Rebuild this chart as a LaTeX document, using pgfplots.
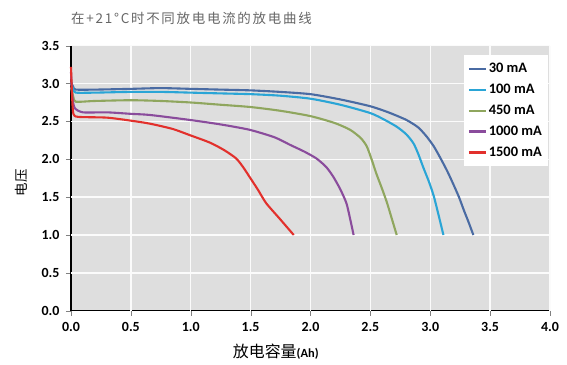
\documentclass[border=0pt]{standalone}
\usepackage{pgfplots}
\pgfplotsset{compat=1.18}
\usepackage{fontspec}
\setmainfont{Carlito}
\newfontfamily\cjk{Noto Sans CJK SC}
\newfontfamily\cjkt[LetterSpace=13]{Noto Sans CJK SC}
\definecolor{c30}{HTML}{4A6BA3}
\definecolor{c100}{HTML}{2AA5D6}
\definecolor{c450}{HTML}{8FA65E}
\definecolor{c1000}{HTML}{8A4C9C}
\definecolor{c1500}{HTML}{E2302C}
\definecolor{plotbg}{HTML}{DEDEDE}
\definecolor{gridc}{HTML}{FBFBFB}
\begin{document}
\begin{tikzpicture}
\path[use as bounding box] (-71bp,-54.3bp) rectangle (496bp,310.7bp);
\fill[plotbg] (0,0) rectangle (479bp,265bp);
\begin{axis}[
  scale only axis, width=479bp, height=265bp,
  xmin=0, xmax=4, ymin=0, ymax=3.5,
  xtick={0,0.5,...,4}, ytick={0,0.5,...,3.5},
  axis x line=bottom, axis y line=left,
  axis line style={-, line width=1.3bp, black},
  tick align=outside, major tick length=5bp,
  /pgf/number format/.cd, fixed, fixed zerofill, precision=1, assume math mode=true,
  /pgfplots/.cd,
  ticklabel style={font=\bfseries\fontsize{14}{16}\selectfont},
  xticklabel style={yshift=-3bp},
  yticklabel style={xshift=-3bp},
  every axis plot/.append style={line width=2.1bp, line join=round, smooth, tension=0.4},
  legend style={at={(rel axis cs:0.996,0.965)}, anchor=north east, draw=none, fill=white,
    font=\bfseries\fontsize{14.5}{16}\selectfont, row sep=6bp, inner xsep=4bp, inner ysep=6bp},
  legend cell align=left,
  clip=false,
]
\pgfplotsinvokeforeach{0.5,1,1.5,2,2.5,3,3.5,4}{
  \addplot[gridc, line width=1.5bp, sharp plot, forget plot] coordinates {(#1,0) (#1,3.5)};
}
\pgfplotsinvokeforeach{0.5,1,1.5,2,2.5,3,3.5}{
  \addplot[gridc, line width=1.5bp, sharp plot, forget plot] coordinates {(0,#1) (4,#1)};
}
\addplot[c30] coordinates {(0,3.02)(0.02,2.95)(0.04,2.92)(0.2,2.92)(0.5,2.93)(0.75,2.94)(1.0,2.93)(1.25,2.92)(1.5,2.91)(1.745,2.89)(2.0,2.86)(2.25,2.79)(2.5,2.70)(2.65,2.62)(2.8,2.52)(2.9,2.42)(2.97,2.30)(3.03,2.17)(3.08,2.03)(3.14,1.85)(3.19,1.68)(3.24,1.50)(3.28,1.33)(3.32,1.17)(3.36,1.0)};
\addlegendentry{30 mA}
\addplot[c100] coordinates {(0,3.0)(0.02,2.92)(0.04,2.88)(0.2,2.88)(0.5,2.89)(0.75,2.89)(1.0,2.88)(1.25,2.87)(1.5,2.86)(1.745,2.84)(2.0,2.80)(2.25,2.72)(2.5,2.61)(2.62,2.52)(2.72,2.43)(2.8,2.33)(2.86,2.21)(2.9,2.07)(2.94,1.90)(2.99,1.70)(3.03,1.51)(3.07,1.26)(3.11,1.0)};
\addlegendentry{100 mA}
\addplot[c450] coordinates {(0,2.95)(0.02,2.82)(0.04,2.76)(0.2,2.77)(0.5,2.78)(0.75,2.77)(1.0,2.75)(1.25,2.72)(1.5,2.69)(1.75,2.64)(2.0,2.57)(2.2,2.48)(2.33,2.39)(2.42,2.28)(2.47,2.17)(2.51,2.00)(2.55,1.81)(2.6,1.60)(2.64,1.42)(2.68,1.21)(2.72,1.0)};
\addlegendentry{450 mA}
\addplot[c1000] coordinates {(0,3.15)(0.01,2.85)(0.03,2.68)(0.1,2.62)(0.3,2.62)(0.5,2.60)(0.66,2.585)(0.99,2.52)(1.25,2.46)(1.49,2.39)(1.7,2.29)(1.83,2.19)(1.95,2.10)(2.05,2.01)(2.13,1.90)(2.19,1.77)(2.25,1.60)(2.30,1.42)(2.33,1.22)(2.36,1.0)};
\addlegendentry{1000 mA}
\addplot[c1500] coordinates {(0,3.22)(0.01,2.8)(0.02,2.6)(0.06,2.56)(0.3,2.55)(0.5,2.51)(0.66,2.47)(0.85,2.40)(0.99,2.32)(1.16,2.22)(1.28,2.12)(1.38,2.01)(1.44,1.89)(1.49,1.77)(1.56,1.60)(1.63,1.42)(1.74,1.22)(1.86,1.0)};
\addlegendentry{1500 mA}
\node[anchor=west, text=black!60, font=\cjkt\fontsize{13.5}{15}\selectfont, inner sep=0pt] at ([yshift=27.7bp]rel axis cs:0,1) {在+21°C时不同放电电流的放电曲线};
\node[rotate=90, font=\cjk\fontsize{13.5}{15}\selectfont, inner sep=0pt] at ([xshift=-50bp]axis cs:0,1.69) {电压};
\node[font=\fontsize{16}{18}\selectfont, inner sep=0pt] at ([yshift=-41bp]axis cs:1.71,0) {{\cjk 放电容量}{\bfseries\fontsize{12.5}{14}\selectfont(Ah)}};
\end{axis}
\end{tikzpicture}
\end{document}
